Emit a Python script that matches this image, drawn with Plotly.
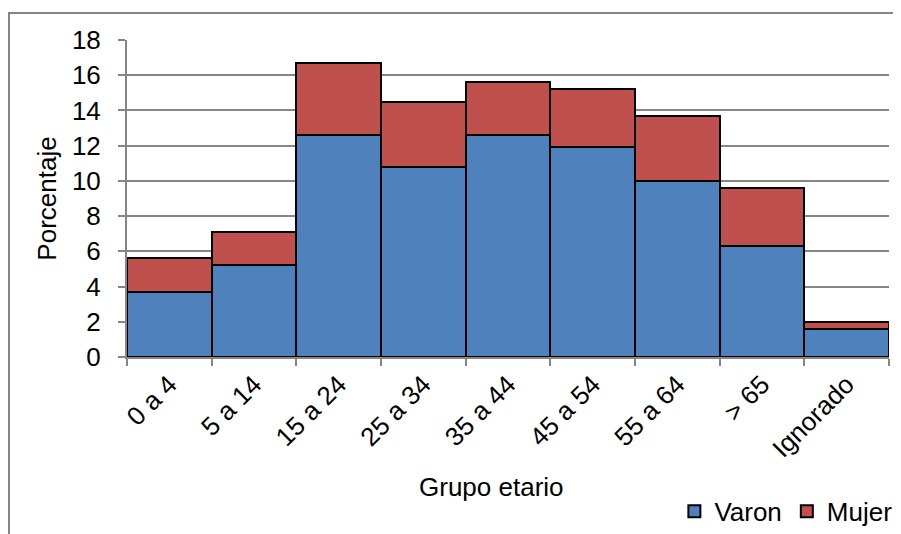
import plotly.graph_objects as go

categories = ["0 a 4", "5 a 14", "15 a 24", "25 a 34", "35 a 44", "45 a 54", "55 a 64", "> 65", "Ignorado"]
varon = [3.7, 5.2, 12.6, 10.8, 12.6, 11.9, 10.0, 6.3, 1.6]
mujer = [1.9, 1.9, 4.1, 3.7, 3.0, 3.3, 3.7, 3.3, 0.4]
y_ticks = [0, 2, 4, 6, 8, 10, 12, 14, 16, 18]

FONT = "Liberation Sans, Arial, sans-serif"
GRAY = "#868686"
FS = 26

# the page body adds an 8px margin, so the figure is 8px smaller and shifted
W, H = 893, 526
L, R, T, B = 119, 12, 32, 176.5
PW = W - L - R
PH = H - T - B

fig = go.Figure()
fig.add_trace(go.Bar(x=categories, y=varon, name="Varon",
                     marker=dict(color="#4F81BD", line=dict(color="black", width=2))))
fig.add_trace(go.Bar(x=categories, y=mujer, name="Mujer",
                     marker=dict(color="#C0504D", line=dict(color="black", width=2))))

fig.update_layout(
    width=W, height=H,
    barmode="stack", bargap=0,
    paper_bgcolor="white", plot_bgcolor="white",
    margin=dict(l=L, r=R, t=T, b=B, autoexpand=False),
    font=dict(family=FONT, size=FS, color="black"),
    showlegend=True,
    legend=dict(orientation="h", x=1.011, xanchor="right", y=(PH - (504 - T)) / PH, yanchor="middle",
                font=dict(size=FS), itemwidth=30, tracegroupgap=0, traceorder="normal",
                bgcolor="rgba(0,0,0,0)"),
    xaxis=dict(automargin=False,
               tickangle=-45, showline=True, linecolor=GRAY, linewidth=2,
               ticks="outside", tickson="boundaries", ticklen=7, tickcolor=GRAY, tickwidth=2,
               showgrid=False, tickfont=dict(size=FS)),
    yaxis=dict(title=dict(text="Porcentaje", font=dict(size=FS), standoff=8),
               automargin=False,
               range=[0, 18], tickvals=y_ticks, showline=True, linecolor=GRAY, linewidth=2,
               ticks="outside", ticklen=7, tickcolor=GRAY, tickwidth=2,
               showgrid=True, gridcolor=GRAY, gridwidth=1.5, zeroline=False,
               ticklabelstandoff=12, tickfont=dict(size=FS)),
    annotations=[dict(text="Grupo etario", xref="paper", yref="paper",
                      x=(491 - 8 - L) / PW, y=(PH - (480 - T)) / PH,
                      xanchor="center", yanchor="middle", showarrow=False,
                      font=dict(size=FS))],
    shapes=[dict(type="rect", xref="paper", yref="paper",
                 x0=(1 - L) / PW, x1=1.2, y0=-0.7, y1=(PH - (5 - T)) / PH,
                 line=dict(color=GRAY, width=2), fillcolor="rgba(0,0,0,0)", layer="below")],
)

fig.write_html("out.html")
